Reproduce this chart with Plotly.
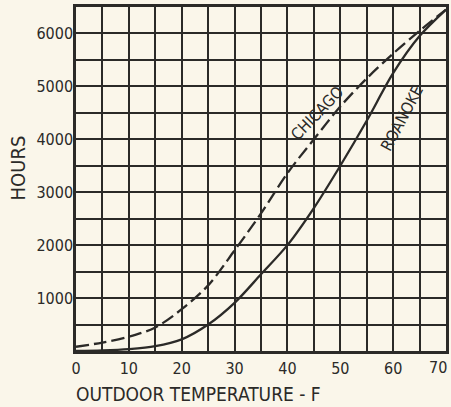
import plotly.graph_objects as go

# Outdoor temperature (deg F) and cumulative hours at or below that temperature
temps = [0, 5, 10, 15, 20, 25, 30, 35, 40, 45, 50, 55, 60, 65, 70]
chicago_hours = [80, 160, 270, 445, 790, 1240, 1900, 2600, 3360, 4000, 4620, 5150, 5620, 6050, 6450]
roanoke_hours = [0, 10, 35, 90, 220, 500, 910, 1450, 2000, 2700, 3500, 4350, 5250, 5950, 6450]

x_tick_vals = list(range(0, 75, 5))
x_tick_text = ["0", "", "10", "", "20", "", "30", "", "40", "", "50", "", "60", "", "70"]
y_tick_vals = list(range(0, 7000, 500))
y_tick_text = ["", "", "1000", "", "2000", "", "3000", "", "4000", "", "5000", "", "6000", ""]

paper = "#faf6ea"
ink = "#2b2a28"
font_family = "DejaVu Sans Condensed, sans-serif"

# plot area in pixels: left, right, top, bottom
PL, PR, PT, PB = 76, 449, 7, 351

fig = go.Figure()
fig.add_trace(go.Scatter(
    x=temps, y=chicago_hours, mode="lines", name="CHICAGO",
    line=dict(color=ink, width=2.3, dash="13px,5px", shape="spline", smoothing=0.9),
))
fig.add_trace(go.Scatter(
    x=temps, y=roanoke_hours, mode="lines", name="ROANOKE",
    line=dict(color=ink, width=2.3, shape="spline", smoothing=0.9),
))

fig.add_annotation(x=45.6, y=4480, text="CHICAGO", showarrow=False, textangle=-46,
                   font=dict(family=font_family, size=16, color=ink))
fig.add_annotation(x=61.6, y=4400, text="ROANOKE", showarrow=False, textangle=-62,
                   font=dict(family=font_family, size=16, color=ink))

# last x tick label sits at the very edge, so it is pulled in a little
fig.add_annotation(x=x_tick_vals[-1], y=0, yref="y", text=x_tick_text[-1], showarrow=False,
                   xanchor="right", yanchor="top", xshift=3, yshift=-5,
                   font=dict(family=font_family, size=16, color=ink))


def px_note(x, y, text, angle=0, size=18):
    fig.add_annotation(
        x=(x - PL) / (PR - PL), y=(PB - y) / (PB - PT), xref="paper", yref="paper",
        xanchor="center", yanchor="middle", text=text, showarrow=False, textangle=angle,
        font=dict(family=font_family, size=size, color=ink),
    )


px_note(18, 168, "HOURS", angle=-90, size=20)
px_note(199, 394, "OUTDOOR TEMPERATURE - F", size=19)

fig.update_xaxes(
    range=[0, 70], tickvals=x_tick_vals, ticktext=x_tick_text[:-1] + [""],
    showgrid=True, gridcolor=ink, gridwidth=1.5, zeroline=False,
    showline=True, linecolor=ink, linewidth=2.5, mirror=True,
    ticks="", ticklabelstandoff=1,
    tickfont=dict(family=font_family, size=16, color=ink),
)
fig.update_yaxes(
    range=[0, 6500], tickvals=y_tick_vals, ticktext=y_tick_text,
    showgrid=True, gridcolor=ink, gridwidth=1.5, zeroline=False,
    showline=True, linecolor=ink, linewidth=2.5, mirror=True,
    ticks="", ticklabelstandoff=-3,
    tickfont=dict(family=font_family, size=16, color=ink),
)
fig.update_layout(
    width=451, height=407,
    margin=dict(l=PL, r=451 - PR, t=PT, b=407 - PB),
    paper_bgcolor=paper, plot_bgcolor=paper,
    showlegend=False,
)
fig.write_html("out.html")
